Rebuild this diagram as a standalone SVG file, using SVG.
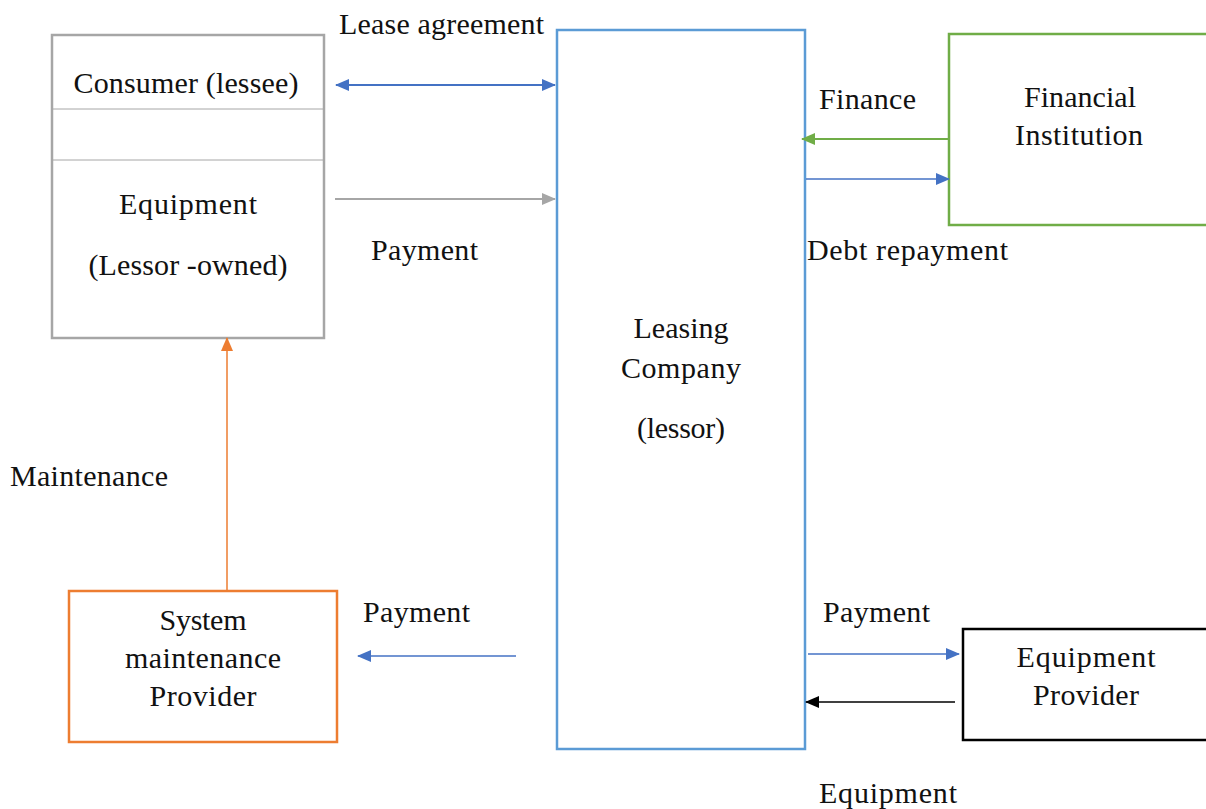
<svg xmlns="http://www.w3.org/2000/svg" width="1206" height="809" viewBox="0 0 1206 809">
<style>
text{font-family:"Liberation Serif","DejaVu Serif","Times New Roman",serif;font-size:30px;fill:#111}
.c{text-anchor:middle}
</style>
<defs>
<marker id="ab" viewBox="0 0 14 12" refX="13" refY="6" markerWidth="14" markerHeight="12" markerUnits="userSpaceOnUse" orient="auto-start-reverse"><path d="M0,0L14,6L0,12z" fill="#4472c4"/></marker>
<marker id="ag" viewBox="0 0 14 12" refX="13" refY="6" markerWidth="14" markerHeight="12" markerUnits="userSpaceOnUse" orient="auto-start-reverse"><path d="M0,0L14,6L0,12z" fill="#a6a6a6"/></marker>
<marker id="agr" viewBox="0 0 14 12" refX="13" refY="6" markerWidth="14" markerHeight="12" markerUnits="userSpaceOnUse" orient="auto-start-reverse"><path d="M0,0L14,6L0,12z" fill="#70ad47"/></marker>
<marker id="ao" viewBox="0 0 14 12" refX="13" refY="6" markerWidth="14" markerHeight="12" markerUnits="userSpaceOnUse" orient="auto-start-reverse"><path d="M0,0L14,6L0,12z" fill="#ed7d31"/></marker>
<marker id="ak" viewBox="0 0 14 12" refX="13" refY="6" markerWidth="14" markerHeight="12" markerUnits="userSpaceOnUse" orient="auto-start-reverse"><path d="M0,0L14,6L0,12z" fill="#000"/></marker>
</defs>

<g id="consumer">
<rect x="52" y="35" width="272" height="303" fill="none" stroke="#a6a6a6" stroke-width="2.5"/>
<line x1="52" y1="109" x2="324" y2="109" stroke="#a6a6a6" stroke-width="1"/>
<line x1="52" y1="160" x2="324" y2="160" stroke="#a6a6a6" stroke-width="1"/>
<text class="c" x="186" y="93" textLength="225">Consumer (lessee)</text>
<text class="c" x="188" y="214" textLength="138">Equipment</text>
<text class="c" x="188" y="275" textLength="199">(Lessor -owned)</text>
</g>

<g id="leasing">
<rect x="557" y="30" width="248" height="719" fill="none" stroke="#5b9bd5" stroke-width="2.5"/>
<text class="c" x="681" y="338" textLength="95">Leasing</text>
<text class="c" x="681" y="378" textLength="120">Company</text>
<text class="c" x="681" y="438" textLength="88">(lessor)</text>
</g>

<g id="financial">
<rect x="949" y="34" width="262" height="191" fill="none" stroke="#70ad47" stroke-width="2.5"/>
<text class="c" x="1080" y="107" textLength="112">Financial</text>
<text class="c" x="1079" y="145" textLength="128">Institution</text>
</g>

<g id="maintenance">
<rect x="69" y="591" width="268" height="151" fill="none" stroke="#ed7d31" stroke-width="2.5"/>
<text class="c" x="203" y="630" textLength="87">System</text>
<text class="c" x="203" y="668" textLength="156">maintenance</text>
<text class="c" x="203" y="706" textLength="107">Provider</text>
</g>

<g id="provider">
<rect x="963" y="629" width="248" height="111" fill="none" stroke="#000" stroke-width="2.5"/>
<text class="c" x="1086" y="667" textLength="139">Equipment</text>
<text class="c" x="1086" y="705" textLength="106">Provider</text>
</g>

<g id="connectors">
<line x1="336" y1="85" x2="555" y2="85" stroke="#4472c4" stroke-width="2" marker-start="url(#ab)" marker-end="url(#ab)"/>
<line x1="335" y1="199" x2="555" y2="199" stroke="#a6a6a6" stroke-width="2" marker-end="url(#ag)"/>
<line x1="949" y1="139" x2="802" y2="139" stroke="#70ad47" stroke-width="2" marker-end="url(#agr)"/>
<line x1="806" y1="179" x2="949" y2="179" stroke="#4472c4" stroke-width="1.5" marker-end="url(#ab)"/>
<line x1="227" y1="591" x2="227" y2="338" stroke="#ed7d31" stroke-width="1.5" marker-end="url(#ao)"/>
<line x1="516" y1="656" x2="358" y2="656" stroke="#4472c4" stroke-width="1.5" marker-end="url(#ab)"/>
<line x1="808" y1="654" x2="959" y2="654" stroke="#4472c4" stroke-width="1.5" marker-end="url(#ab)"/>
<line x1="955" y1="702" x2="806" y2="702" stroke="#000" stroke-width="1.5" marker-end="url(#ak)"/>
</g>

<g id="labels">
<text x="339" y="34" textLength="205">Lease agreement</text>
<text x="371" y="260" textLength="107">Payment</text>
<text x="819" y="109" textLength="97">Finance</text>
<text x="807" y="260" textLength="201">Debt repayment</text>
<text x="10" y="486" textLength="158">Maintenance</text>
<text x="363" y="622" textLength="107">Payment</text>
<text x="823" y="622" textLength="107">Payment</text>
<text x="819" y="803" textLength="138">Equipment</text>
</g>
</svg>
